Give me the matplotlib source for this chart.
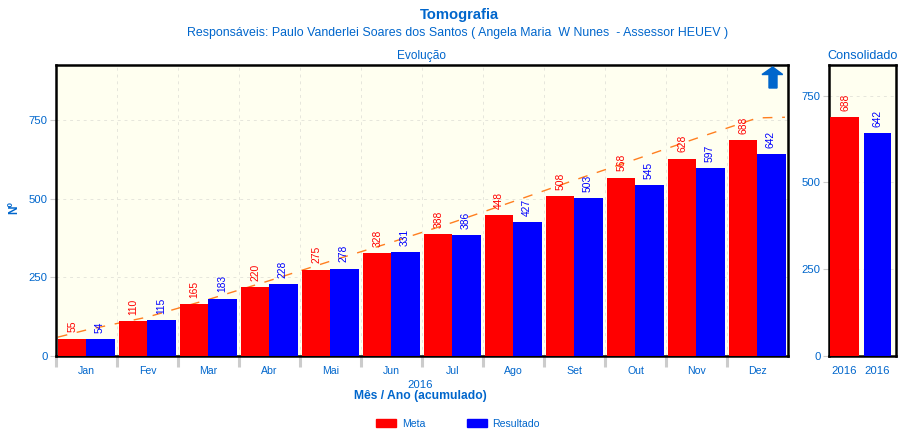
import matplotlib
matplotlib.use("Agg")
import matplotlib.pyplot as plt
import numpy as np
from matplotlib.patches import Patch

# Data
months = ["Jan", "Fev", "Mar", "Abr", "Mai", "Jun", "Jul", "Ago", "Set", "Out", "Nov", "Dez"]
meta = [55, 110, 165, 220, 275, 328, 388, 448, 508, 568, 628, 688]
resultado = [54, 115, 183, 228, 278, 331, 386, 427, 503, 545, 597, 642]
trendX = [0.03, 0.5, 1.5, 2.5, 3.5, 4.5, 5.5, 6.5, 7.5, 8.5, 9.5, 10.5, 11.5, 11.95]
trendValues = [60, 83, 124, 180, 240, 302, 362, 425, 492, 560, 626, 693, 758, 760]
consolidadoLabels = ["2016", "2016"]
consolidadoValues = [688, 642]
mainTicks = [0, 250, 500, 750]

# Colors
BLUE = "#0066CC"
IVORY = "#FFFFF0"
GRID = "#E6E6DC"
TICK = "#CCCCCC"

W, H = 918, 447
plt.rcParams["font.family"] = ["Liberation Sans", "DejaVu Sans"]

def pixelAxes(fig, left, top, right, bottom):
    """Create axes from pixel edges measured from the top left corner."""
    return fig.add_axes([left / W, 1 - bottom / H, (right - left) / W, (bottom - top) / H])

def styleAxes(axe):
    axe.set_facecolor(IVORY)
    for spine in axe.spines.values():
        spine.set_linewidth(1.8)
        spine.set_color("black")
    axe.set_axisbelow(True)
    axe.tick_params(axis="y", colors=TICK, labelcolor=BLUE, labelsize=8.2, length=4, width=0.8, pad=2)

fig = plt.figure(figsize=(W / 100, H / 100), dpi=100, facecolor="white")

############################################################################
# Main panel
############################################################################
axe = pixelAxes(fig, 56, 64.5, 788, 356)
styleAxes(axe)
axe.set_xlim(0, 12)
axe.set_ylim(0, 928)
axe.set_yticks(mainTicks)

# Month boundaries get the ticks and the grid, the labels sit in between
axe.set_xticks(np.arange(12))
axe.set_xticklabels([])
axe.set_xticks(np.arange(12) + 0.5, months, minor=True)
axe.tick_params(axis="x", which="major", colors=TICK, length=8, width=2.2)
axe.tick_params(axis="x", which="minor", length=0, labelcolor=BLUE, labelsize=7.6, pad=7.5)
axe.grid(True, color=GRID, linestyle=(0, (3, 4)), linewidth=0.7)

xPos = np.arange(12)
axe.plot(trendX, trendValues, color="#FF7F20", linewidth=1.0, linestyle=(0, (7, 7)), zorder=2)
axe.bar(xPos + 0.025, meta, width=0.46, align="edge", color="#FF0000", zorder=3)
axe.bar(xPos + 0.485, resultado, width=0.475, align="edge", color="#0000FF", zorder=3)

for i in range(12):
    axe.annotate(str(meta[i]), (xPos[i] + 0.255, meta[i]), xytext=(0.5, 4.5), textcoords="offset points",
                 rotation=90, ha="center", va="bottom", color="#FF0000", fontsize=7.4, zorder=4)
    axe.annotate(str(resultado[i]), (xPos[i] + 0.72, resultado[i]), xytext=(0, 4.5), textcoords="offset points",
                 rotation=90, ha="center", va="bottom", color="#0000FF", fontsize=7.4, zorder=4)

# Up arrow icon in the top right corner
arrowX = np.array([772.7, 782.7, 777, 777, 769, 769, 762, 772.7])
arrowY = np.array([67, 74.5, 74.5, 88, 88, 74.5, 74.5, 67])
fig.add_artist(plt.Polygon(np.column_stack([arrowX / W, 1 - arrowY / H]), closed=True,
                           color=BLUE, transform=fig.transFigure, zorder=6))

############################################################################
# Consolidated panel
############################################################################
axe2 = pixelAxes(fig, 829, 64.5, 896, 356)
styleAxes(axe2)
axe2.set_xlim(0, 2)
axe2.set_ylim(0, 840)
axe2.set_yticks(mainTicks)
axe2.set_xticks([0.46, 1.45], consolidadoLabels)
axe2.tick_params(axis="x", length=0, labelcolor=BLUE, labelsize=8.2, pad=7.5)
axe2.grid(True, axis="y", color=GRID, linestyle=(0, (3, 4)), linewidth=0.7)

axe2.bar(0.03, consolidadoValues[0], width=0.87, align="edge", color="#FF0000", zorder=3)
axe2.bar(1.04, consolidadoValues[1], width=0.81, align="edge", color="#0000FF", zorder=3)
axe2.annotate(str(consolidadoValues[0]), (0.46, consolidadoValues[0]), xytext=(0.5, 4.5), textcoords="offset points",
              rotation=90, ha="center", va="bottom", color="#FF0000", fontsize=7.4)
axe2.annotate(str(consolidadoValues[1]), (1.45, consolidadoValues[1]), xytext=(0, 4.5), textcoords="offset points",
              rotation=90, ha="center", va="bottom", color="#0000FF", fontsize=7.4)

############################################################################
# Figure text
############################################################################
def pixelText(x, y, text, **kwargs):
    fig.text(x / W, 1 - y / H, text, ha="center", va="center", color=BLUE, **kwargs)

pixelText(459, 15.5, "Tomografia", fontsize=10.6, fontweight="bold")
pixelText(457.5, 33, "Responsáveis: Paulo Vanderlei Soares dos Santos ( Angela Maria  W Nunes  - Assessor HEUEV )", fontsize=8.9)
pixelText(421, 56, "Evolução", fontsize=8.6)
pixelText(862.5, 56, "Consolidado", fontsize=9.1)
pixelText(420.5, 384.5, "2016", fontsize=8.2)
pixelText(420, 396.5, "Mês / Ano (acumulado)", fontsize=8.7, fontweight="bold")
pixelText(14, 208, "Nº", fontsize=8.6, fontweight="bold", rotation=90)

handles = [Patch(color="#FF0000", label="Meta"), Patch(color="#0000FF", label="Resultado")]
legend = fig.legend(handles=handles, loc="center", bbox_to_anchor=(458 / W, 1 - 424 / H), ncol=2, frameon=False,
                    fontsize=7.6, handlelength=1.9, handleheight=0.75, handletextpad=0.55, columnspacing=3.9,
                    borderpad=0, borderaxespad=0)
for legendText in legend.get_texts():
    legendText.set_color(BLUE)

fig.savefig("out.png", dpi=100)
